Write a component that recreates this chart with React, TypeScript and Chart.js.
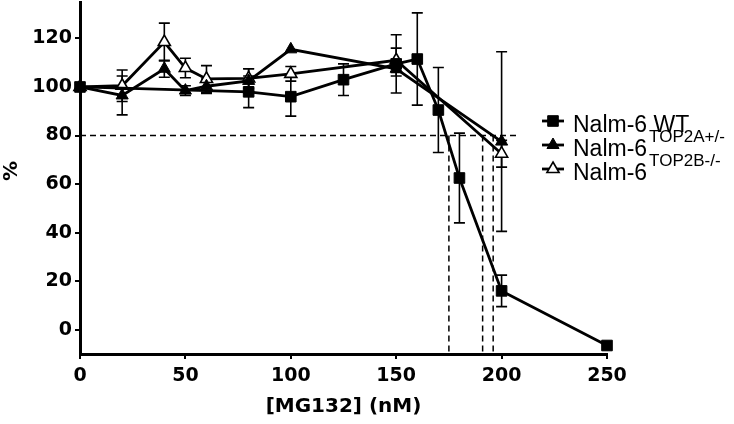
import React, { useEffect, useRef } from 'react';
import { Chart, registerables } from 'chart.js';

Chart.register(...registerables);

// ---- data ----
const wtX = [0, 80, 100, 125, 150, 160, 170, 180, 200, 250];
const wtY = [100, 98, 96, 103, 109.5, 111.5, 90.5, 62.5, 16, -6.5];
const wtErr = [0, 6.5, 8, 6.5, 12, 19, 17.5, 18.5, 6.5, 0];

const top2aX = [0, 20, 40, 50, 60, 80, 100, 150, 200];
const top2aY = [100, 96.5, 107.5, 98.5, 100.3, 102.5, 115.5, 107.5, 77.5];
const top2aErr = [0, 8, 3.5, 2, 3, 5, 0, 3, 37];

const top2bX = [0, 20, 40, 50, 60, 80, 100, 150, 200];
const top2bY = [100, 100.5, 118.5, 107.8, 103.3, 103.5, 105.4, 111, 72.5];
const top2bErr = [0, 6.5, 7.8, 4, 5.5, 4, 3, 5, 5.5];

const xTicks = [0, 50, 100, 150, 200, 250];
const yTicks = [0, 20, 40, 60, 80, 100, 120];

const cutoffY = 80;
const cutoffEndX = 208;
const cutoffXs = [175, 191, 196];

const legendMain = ['Nalm-6 WT', 'Nalm-6', 'Nalm-6'];
const legendSup = ['', 'TOP2A+/-', 'TOP2B-/-'];
const xTitle = '[MG132] (nM)';
const yTitle = '%';

const AXIS_FONT = "'DejaVu Sans', sans-serif";
const LEGEND_FONT = "'Liberation Sans', Arial, sans-serif";

function drawMarker(ctx: CanvasRenderingContext2D, style: string, x: number, y: number, r: number, fill: string, bw: number) {
  ctx.beginPath();
  if (style === 'rect') {
    const s = r * Math.SQRT1_2;
    ctx.rect(x - s, y - s, 2 * s, 2 * s);
  } else {
    let a = 0;
    ctx.moveTo(x + Math.sin(a) * r, y - Math.cos(a) * r);
    a += (2 * Math.PI) / 3;
    ctx.lineTo(x + Math.sin(a) * r, y - Math.cos(a) * r);
    a += (2 * Math.PI) / 3;
    ctx.lineTo(x + Math.sin(a) * r, y - Math.cos(a) * r);
    ctx.closePath();
  }
  ctx.fillStyle = fill;
  ctx.fill();
  ctx.strokeStyle = '#000';
  ctx.lineWidth = bw;
  ctx.stroke();
}

const refLinesPlugin = {
  id: 'refLines',
  beforeDatasetsDraw(chart: any) {
    const { ctx } = chart;
    const xs = chart.scales.x;
    const ys = chart.scales.y;
    ctx.save();
    ctx.setLineDash([6, 4]);
    ctx.lineWidth = 1.5;
    ctx.strokeStyle = '#000';
    ctx.beginPath();
    ctx.moveTo(xs.getPixelForValue(0), ys.getPixelForValue(cutoffY));
    ctx.lineTo(xs.getPixelForValue(cutoffEndX), ys.getPixelForValue(cutoffY));
    cutoffXs.forEach((v) => {
      ctx.moveTo(xs.getPixelForValue(v), ys.getPixelForValue(cutoffY));
      ctx.lineTo(xs.getPixelForValue(v), ys.getPixelForValue(ys.min));
    });
    ctx.stroke();
    ctx.restore();
  },
};

const errorBarsPlugin = {
  id: 'errorBars',
  beforeDatasetsDraw(chart: any) {
    const { ctx } = chart;
    const ys = chart.scales.y;
    ctx.save();
    ctx.strokeStyle = '#000';
    ctx.lineWidth = 1.6;
    chart.data.datasets.forEach((ds: any, i: number) => {
      const meta = chart.getDatasetMeta(i);
      const errs: number[] = ds.errors || [];
      ds.data.forEach((pt: any, j: number) => {
        const e = errs[j];
        if (!e) return;
        const px = meta.data[j].x;
        const top = ys.getPixelForValue(pt.y + e);
        const bot = ys.getPixelForValue(pt.y - e);
        const cap = 5.5;
        ctx.beginPath();
        ctx.moveTo(px, top);
        ctx.lineTo(px, bot);
        ctx.moveTo(px - cap, top);
        ctx.lineTo(px + cap, top);
        ctx.moveTo(px - cap, bot);
        ctx.lineTo(px + cap, bot);
        ctx.stroke();
      });
    });
    ctx.restore();
  },
};

const legendPlugin = {
  id: 'customLegend',
  afterDraw(chart: any) {
    const { ctx } = chart;
    const area = chart.chartArea;
    const rowsY = [121, 145, 169];
    const lineX0 = area.right - 65;
    const lineX1 = area.right - 43;
    const markX = area.right - 54;
    const textX = area.right - 34;
    ctx.save();
    chart.data.datasets.forEach((ds: any, i: number) => {
      const y = rowsY[i];
      ctx.beginPath();
      ctx.strokeStyle = '#000';
      ctx.lineWidth = 2.8;
      ctx.moveTo(lineX0, y);
      ctx.lineTo(lineX1, y);
      ctx.stroke();
      drawMarker(ctx, ds.pointStyle, markX, y, ds.pointRadius, ds.pointBackgroundColor, ds.pointBorderWidth);
      ctx.fillStyle = '#000';
      ctx.textAlign = 'left';
      ctx.textBaseline = 'alphabetic';
      ctx.font = `23px ${LEGEND_FONT}`;
      ctx.fillText(legendMain[i], textX, y + 11);
      const w = ctx.measureText(legendMain[i]).width;
      if (legendSup[i]) {
        ctx.font = `17px ${LEGEND_FONT}`;
        ctx.fillText(legendSup[i], textX + w + 2, y - 3);
      }
    });
    ctx.restore();
  },
};

function makeData(xs: number[], ys: number[]) {
  return xs.map((x, i) => ({ x, y: ys[i] }));
}

export default function App() {
  const ref = useRef<HTMLCanvasElement>(null);

  useEffect(() => {
    if (!ref.current) return;
    const common = {
      borderColor: '#000',
      borderWidth: 2.8,
      pointBorderColor: '#000',
      fill: false,
      tension: 0,
      clip: false as any,
    };
    const chart = new Chart(ref.current, {
      type: 'line',
      data: {
        datasets: [
          {
            ...common,
            label: 'Nalm-6 WT',
            data: makeData(wtX, wtY),
            errors: wtErr,
            pointStyle: 'rect',
            pointRadius: 7.5,
            pointBackgroundColor: '#000',
            pointBorderWidth: 1,
          } as any,
          {
            ...common,
            label: 'Nalm-6 TOP2A+/-',
            data: makeData(top2aX, top2aY),
            errors: top2aErr,
            pointStyle: 'triangle',
            pointRadius: 7,
            pointBackgroundColor: '#000',
            pointBorderWidth: 1,
          } as any,
          {
            ...common,
            label: 'Nalm-6 TOP2B-/-',
            data: makeData(top2bX, top2bY),
            errors: top2bErr,
            pointStyle: 'triangle',
            pointRadius: 7,
            pointBackgroundColor: '#fff',
            pointBorderWidth: 1.6,
          } as any,
        ],
      },
      options: {
        animation: false,
        responsive: false,
        maintainAspectRatio: false,
        layout: { autoPadding: false, padding: { top: 2, right: 127, bottom: 0, left: 0 } },
        plugins: {
          legend: { display: false },
          tooltip: { enabled: false },
        },
        scales: {
          x: {
            type: 'linear',
            min: 0,
            max: 250,
            afterBuildTicks: (s: any) => {
              s.ticks = xTicks.map((v) => ({ value: v }));
            },
            afterFit: (s: any) => {
              s.height = 70;
              s.paddingLeft = 0;
              s.paddingRight = 0;
            },
            grid: { drawOnChartArea: false, drawTicks: true, tickLength: 5, color: '#000', lineWidth: 2 },
            border: { color: '#000', width: 3 },
            ticks: {
              color: '#000',
              padding: 6,
              maxRotation: 0,
              font: { family: AXIS_FONT, weight: 'bold', size: 19 },
            },
            title: {
              display: true,
              text: xTitle,
              color: '#000',
              font: { family: AXIS_FONT, weight: 'bold', size: 20 },
              padding: { top: 0, bottom: 5 },
            },
          },
          y: {
            type: 'linear',
            min: -10,
            max: 135,
            afterBuildTicks: (s: any) => {
              s.ticks = yTicks.map((v) => ({ value: v }));
            },
            afterFit: (s: any) => {
              s.width = 80;
              s.paddingTop = 0;
              s.paddingBottom = 0;
            },
            grid: { drawOnChartArea: false, drawTicks: true, tickLength: 5, color: '#000', lineWidth: 2 },
            border: { color: '#000', width: 3 },
            ticks: {
              color: '#000',
              padding: 3,
              font: { family: AXIS_FONT, weight: 'bold', size: 19 },
            },
            title: {
              display: true,
              text: '  ' + yTitle,
              color: '#000',
              font: { family: AXIS_FONT, weight: 'bold', size: 20 },
              padding: { top: 0, bottom: 0 },
            },
          },
        },
      } as any,
      plugins: [refLinesPlugin, errorBarsPlugin, legendPlugin],
    });
    return () => chart.destroy();
  }, []);

  return (
    <div style={{ position: 'absolute', left: 0, top: 0, width: 734, height: 424, background: '#fff' }}>
      <canvas ref={ref} width={734} height={424} style={{ display: 'block', width: 734, height: 424 }} />
    </div>
  );
}
